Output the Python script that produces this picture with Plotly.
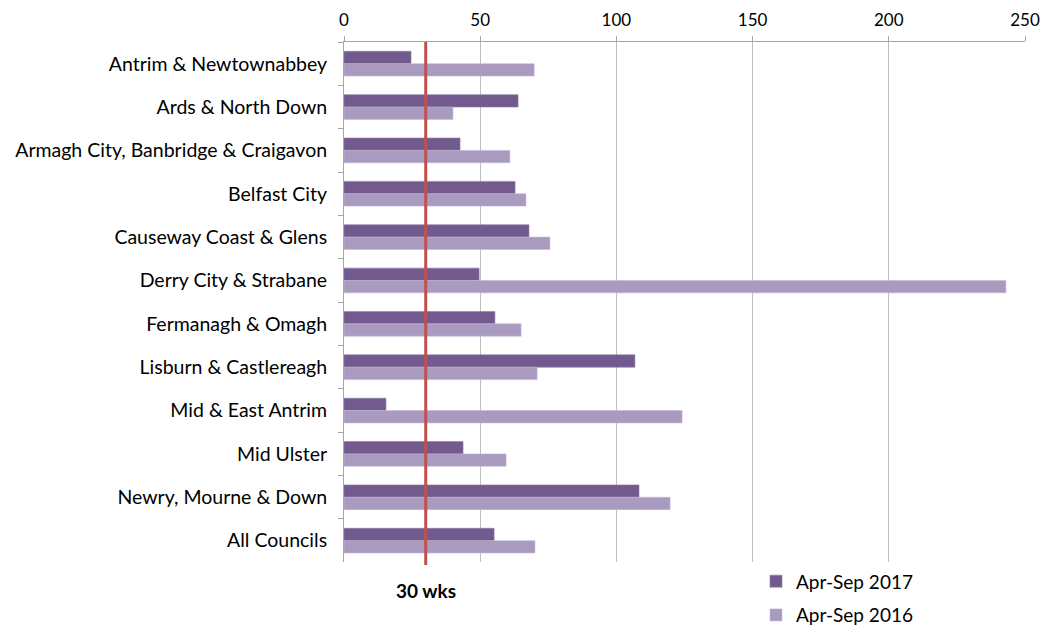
import plotly.graph_objects as go

categories = ["Antrim & Newtownabbey", "Ards & North Down", "Armagh City, Banbridge & Craigavon",
              "Belfast City", "Causeway Coast & Glens", "Derry City & Strabane",
              "Fermanagh & Omagh", "Lisburn & Castlereagh", "Mid & East Antrim",
              "Mid Ulster", "Newry, Mourne & Down", "All Councils"]
apr_sep_2017 = [24.6, 63.9, 42.6, 62.8, 67.9, 49.6, 55.4, 106.8, 15.4, 43.7, 108.3, 55.1]
apr_sep_2016 = [69.8, 40.0, 60.9, 66.8, 75.6, 243.0, 65.0, 70.9, 124.1, 59.5, 119.7, 70.1]
target_weeks = 30
x_ticks = [0, 50, 100, 150, 200, 250]

FONT = "Lato"

fig = go.Figure()
fig.add_trace(go.Bar(y=categories, x=apr_sep_2017, orientation="h", name="Apr-Sep 2017",
                     marker=dict(color="#725A8F", line=dict(color="#8E7AA8", width=0.6)),
                     legendgroup="a"))
fig.add_trace(go.Bar(y=categories, x=apr_sep_2016, orientation="h", name="Apr-Sep 2016",
                     marker=dict(color="#A99BC0", line=dict(color="#C4B9D4", width=0.6)),
                     legendgroup="b"))

fig.add_shape(type="line", x0=target_weeks, x1=target_weeks, xref="x", yref="paper",
              y0=-0.005, y1=1.0, line=dict(color="#C0504D", width=3), layer="above")
fig.add_annotation(x=target_weeks, xref="x", y=-0.028, yref="paper", text="<b>30 wks</b>",
                   showarrow=False, yanchor="top", font=dict(family=FONT, size=19, color="#000"))

fig.update_layout(
    width=1040, height=629,
    margin=dict(l=344, r=15, t=42, b=64),
    paper_bgcolor="white", plot_bgcolor="white",
    barmode="group", bargap=0.43, bargroupgap=0,
    font=dict(family=FONT, size=19, color="#000"),
    showlegend=True,
    legend=dict(x=0.605, xanchor="left", xref="paper", y=0.106, yanchor="top", yref="container",
                orientation="v", traceorder="grouped", tracegroupgap=6,
                font=dict(family=FONT, size=19), itemwidth=30, bgcolor="rgba(0,0,0,0)"),
    xaxis=dict(side="top", range=[0, 250], tickvals=x_ticks, showgrid=True,
               gridcolor="#BFBFBF", gridwidth=1, showline=True, linecolor="#A6A6A6",
               linewidth=1, ticks="outside", ticklen=5, tickcolor="#A6A6A6",
               tickfont=dict(family=FONT, size=17), zeroline=False, fixedrange=True,
               automargin=False, ticklabelstandoff=3),
    yaxis=dict(autorange="reversed", showline=True, linecolor="#A6A6A6", linewidth=1,
               ticks="outside", ticklen=5, tickcolor="#A6A6A6", tickson="boundaries",
               tickfont=dict(family=FONT, size=19.5), ticklabelstandoff=12, showgrid=False,
               automargin=False, fixedrange=True),
)

fig.write_html("out.html", config={"displayModeBar": False},
               post_script="document.body.style.margin='0';")
